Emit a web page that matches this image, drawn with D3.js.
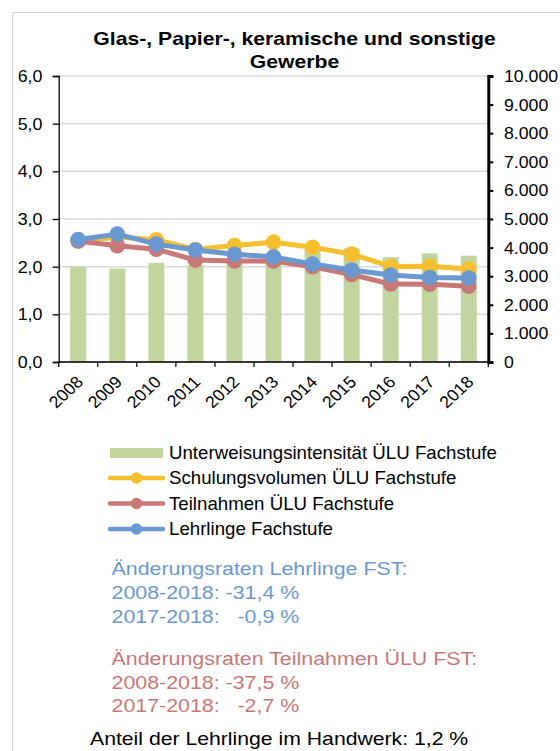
<!DOCTYPE html>
<html><head><meta charset="utf-8">
<script src="https://cdn.jsdelivr.net/npm/d3@7"></script>
<style>
html,body{margin:0;padding:0;background:#fff;}
svg{display:block;font-family:"Liberation Sans",Arial,sans-serif;}
</style></head>
<body>
<svg id="c" width="560" height="751"></svg>
<script>
const years = ["2008","2009","2010","2011","2012","2013","2014","2015","2016","2017","2018"];
const intensity = [2.00,1.96,2.08,2.03,2.07,2.15,2.38,2.38,2.20,2.28,2.23];
const schulungsvolumen = [4230,4370,4273,3935,4070,4190,4014,3773,3340,3350,3250];
const teilnahmen = [4233,4063,3946,3563,3530,3530,3330,3061,2725,2719,2646];
const lehrlinge = [4280,4472,4122,3913,3770,3675,3424,3215,3040,2957,2936];
const leftTicks = [0,1,2,3,4,5,6];
const rightTicks = [0,1000,2000,3000,4000,5000,6000,7000,8000,9000,10000];
const titleLines = ["Glas-, Papier-, keramische und sonstige","Gewerbe"];
const legendLabels = ["Unterweisungsintensität ÜLU Fachstufe","Schulungsvolumen ÜLU Fachstufe","Teilnahmen ÜLU Fachstufe","Lehrlinge Fachstufe"];
const notesBlue = ["Änderungsraten Lehrlinge FST:","2008-2018: -31,4 %","2017-2018:   -0,9 %"];
const notesRed = ["Änderungsraten Teilnahmen ÜLU FST:","2008-2018: -37,5 %","2017-2018:   -2,7 %"];
const noteBlack = "Anteil der Lehrlinge im Handwerk: 1,2 %";

const C = {bar:"#c3d59e", yellow:"#f6bf2f", red:"#c97878", blue:"#6a99d2", grid:"#d9d9d9", tBlue:"#6a99d2", tRed:"#c97878"};
const svg = d3.select("#c");
const L = 58.7, R = 488.3, T = 76, B = 362;

function stext(g, x, y, sx, str, size, fill, anchor, weight){
  return g.append("text").attr("transform",`translate(${x},${y}) scale(${sx},1)`)
    .attr("text-anchor",anchor||"start").attr("font-size",size).attr("fill",fill)
    .attr("font-weight",weight||"normal").attr("xml:space","preserve").style("white-space","pre").text(str);
}

// border
svg.append("rect").attr("x",12.5).attr("y",12.5).attr("width",600).attr("height",800)
  .attr("fill","none").attr("stroke","#d9d9d9").attr("stroke-width",1);

const x = d3.scaleBand().domain(years).range([L,R]).padding(0);
const yL = d3.scaleLinear().domain([0,6]).range([B,T]);
const yR = d3.scaleLinear().domain([0,10000]).range([B,T]);

// title
const tg = svg.append("g");
titleLines.forEach((d,i)=>stext(tg,294.5,45+i*23,1.145,d,18.5,"#000","middle","bold"));

// grid
svg.append("g").selectAll("line").data(leftTicks).join("line")
  .attr("x1",L).attr("x2",R).attr("y1",d=>yL(d)).attr("y2",d=>yL(d))
  .attr("stroke",C.grid).attr("stroke-width",1.5);

// bars
const bw = 16;
svg.append("g").selectAll("rect").data(intensity).join("rect")
  .attr("x",(d,i)=>x(years[i])+x.bandwidth()/2-bw/2).attr("width",bw)
  .attr("y",d=>yL(d)).attr("height",d=>yL(0)-yL(d)).attr("fill",C.bar);

// lines
const series = [[schulungsvolumen,C.yellow],[teilnahmen,C.red],[lehrlinge,C.blue]];
const line = d3.line().x((d,i)=>x(years[i])+x.bandwidth()/2).y(d=>yR(d));
series.forEach(([vals,col])=>{
  const g = svg.append("g");
  g.append("path").attr("d",line(vals)).attr("fill","none").attr("stroke",col)
    .attr("stroke-width",5).attr("stroke-linejoin","round");
  g.selectAll("circle").data(vals).join("circle")
    .attr("cx",(d,i)=>x(years[i])+x.bandwidth()/2).attr("cy",d=>yR(d)).attr("r",7.8).attr("fill",col);
});

// left axis
const gl = svg.append("g").attr("transform",`translate(${L},0)`)
  .call(d3.axisLeft(yL).tickValues(leftTicks).tickFormat("").tickSize(6));
gl.select(".domain").attr("stroke","#000").attr("stroke-width",1.3);
gl.selectAll(".tick line").attr("stroke","#000").attr("stroke-width",1.3);
const glab = svg.append("g");
leftTicks.forEach(v=>stext(glab,42.5,yL(v)+6,1.05,d3.format(".1f")(v).replace(".",","),17,"#000","end"));

// right axis
const gr = svg.append("g").attr("transform",`translate(${R},0)`)
  .call(d3.axisRight(yR).tickValues(rightTicks).tickFormat("").tickSize(5));
gr.select(".domain").attr("stroke","#000").attr("stroke-width",3);
gr.selectAll(".tick line").attr("stroke","#000").attr("stroke-width",2);
const grab = svg.append("g");
rightTicks.forEach(v=>stext(grab,504,yR(v)+6,1.04,d3.format(",")(v).replace(/,/g,"."),17,"#000","start"));

// x axis
const gx = svg.append("g").attr("transform",`translate(0,${B})`);
gx.append("line").attr("x1",L).attr("x2",R).attr("stroke","#000").attr("stroke-width",1.5);
const bounds = years.map(y=>x(y)).concat([R]);
gx.selectAll("line.tk").data(bounds).join("line").attr("class","tk")
  .attr("x1",d=>d).attr("x2",d=>d).attr("y1",0).attr("y2",5).attr("stroke","#000").attr("stroke-width",1.2);
gx.selectAll("text").data(years).join("text")
  .attr("transform",d=>`translate(${x(d)+x.bandwidth()/2+6},${21}) scale(1.08,1) rotate(-45)`)
  .attr("text-anchor","end").attr("font-size",16.5).attr("fill","#000").text(d=>d);

// legend
const lg = svg.append("g");
const ly = [453,478,503.5,529];
lg.append("rect").attr("x",110).attr("y",ly[0]-5).attr("width",53).attr("height",10).attr("fill",C.bar);
[[C.yellow,1],[C.red,2],[C.blue,3]].forEach(([col,i])=>{
  lg.append("line").attr("x1",110).attr("x2",163).attr("y1",ly[i]).attr("y2",ly[i]).attr("stroke",col).attr("stroke-width",4.5).attr("stroke-linecap","round");
  lg.append("circle").attr("cx",136.5).attr("cy",ly[i]).attr("r",5.8).attr("fill",col);
});
legendLabels.forEach((d,i)=>stext(lg,169,ly[i]+6.3,1.055,d,17.7,"#000","start"));

// notes
const nb = svg.append("g");
notesBlue.forEach((d,i)=>stext(nb,111.5,575+i*23.8,1.15,d,18.6,C.tBlue,"start"));
const nr = svg.append("g");
notesRed.forEach((d,i)=>stext(nr,111.5,665+i*23.7,1.15,d,18.6,C.tRed,"start"));
stext(svg,90,745,1.14,noteBlack,18.6,"#000","start");
</script>
</body></html>
